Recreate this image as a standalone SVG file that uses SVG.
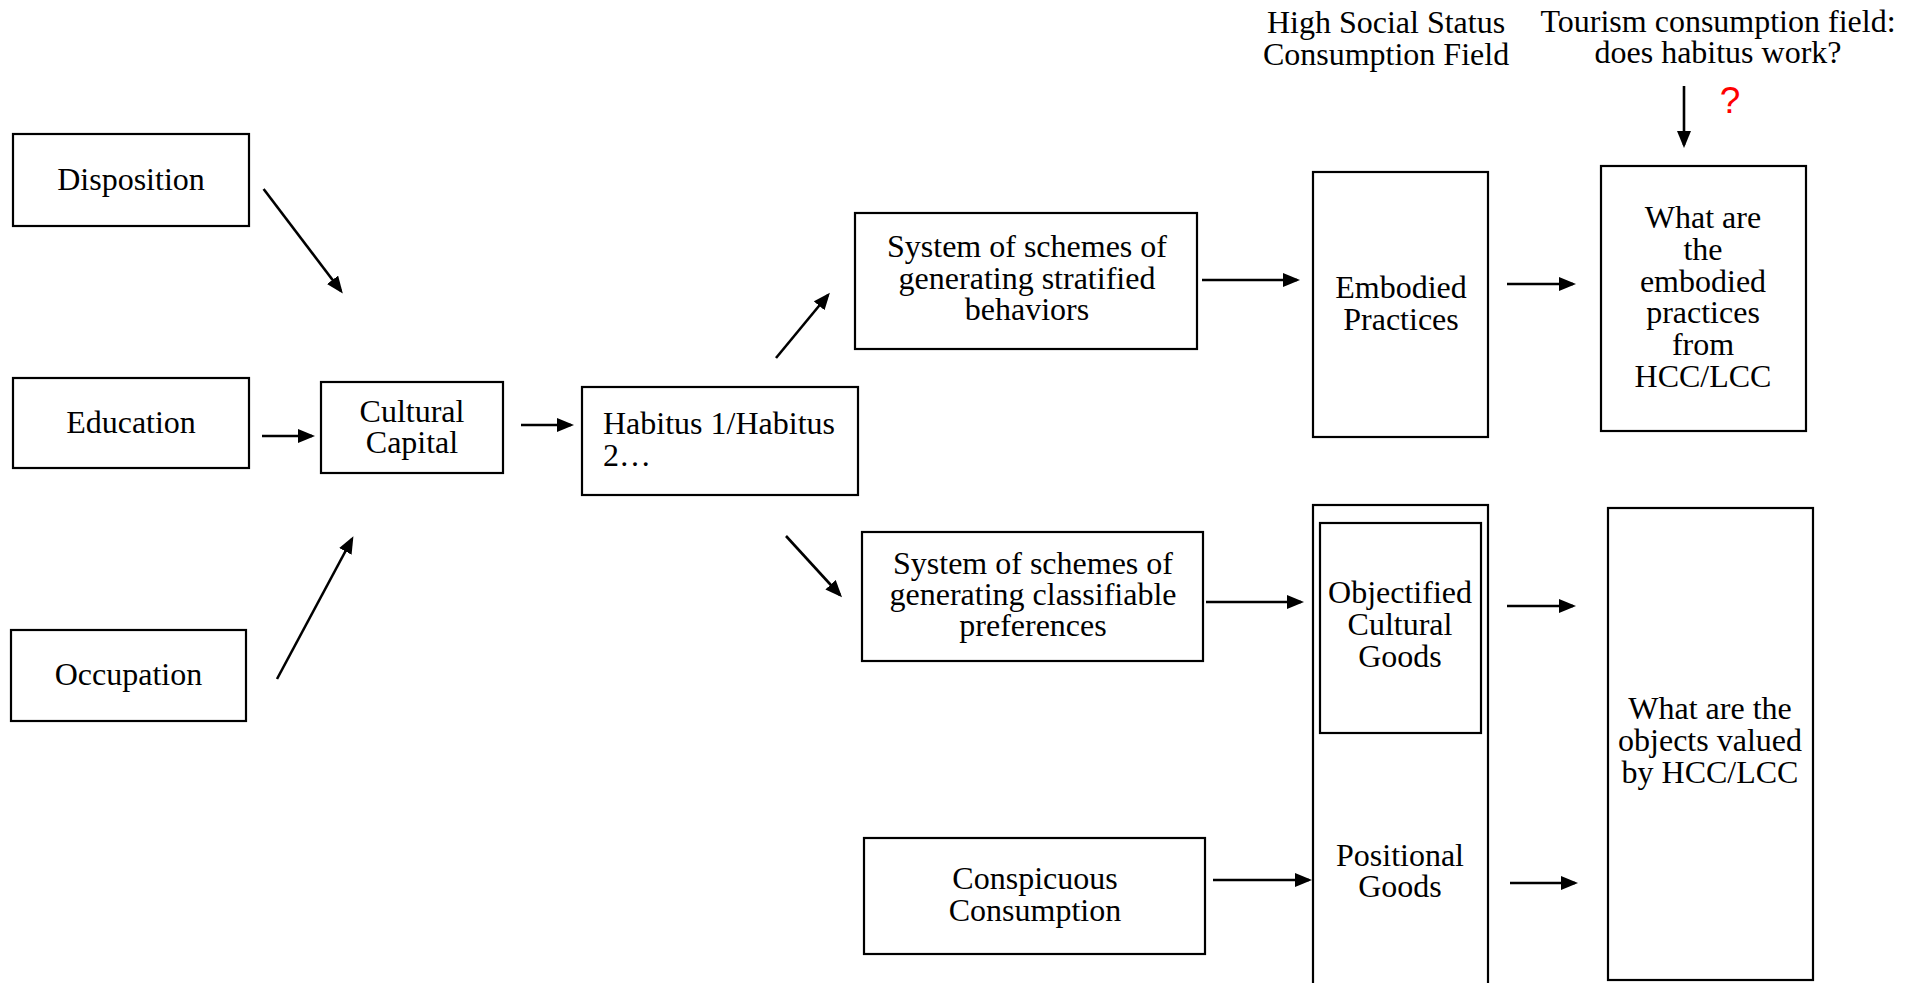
<svg xmlns="http://www.w3.org/2000/svg" width="1922" height="983" viewBox="0 0 1922 983">
<style>
.box{fill:#fff;stroke:#000;stroke-width:2.2}
.t{font-family:"Liberation Serif","Times New Roman",serif;font-size:32px;fill:#000;text-anchor:middle}
.tl{font-family:"Liberation Serif","Times New Roman",serif;font-size:32px;fill:#000}
.c{stroke:#000;stroke-width:2.6;fill:none;marker-end:url(#ah)}
</style>
<defs>
<marker id="ah" markerUnits="userSpaceOnUse" markerWidth="20" markerHeight="16" refX="14" refY="7" orient="auto">
<path d="M0,0 L17,7 L0,14 z" fill="#000"/>
</marker>
</defs>
<rect width="1922" height="983" fill="#fff"/>
<g id="disposition"><rect class="box" x="13" y="134" width="236" height="92"/><text class="t" x="131" y="190">Disposition</text></g>
<g id="education"><rect class="box" x="13" y="378" width="236" height="90"/><text class="t" x="131" y="433">Education</text></g>
<g id="occupation"><rect class="box" x="11" y="630" width="235" height="91"/><text class="t" x="128.5" y="685">Occupation</text></g>
<g id="cultural-capital"><rect class="box" x="321" y="382" width="182" height="91"/><text class="t" x="412" y="422">Cultural<tspan x="412" dy="31">Capital</tspan></text></g>
<g id="habitus"><rect class="box" x="582" y="387" width="276" height="108"/><text class="tl" x="603" y="434">Habitus 1/Habitus<tspan x="603" dy="32">2…</tspan></text></g>
<g id="stratified"><rect class="box" x="855" y="213" width="342" height="136"/><text class="t" x="1027" y="257">System of schemes of<tspan x="1027" dy="31.5">generating stratified</tspan><tspan x="1027" dy="31.5">behaviors</tspan></text></g>
<g id="classifiable"><rect class="box" x="862" y="532" width="341" height="129"/><text class="t" x="1033" y="574">System of schemes of<tspan x="1033" dy="31">generating classifiable</tspan><tspan x="1033" dy="31">preferences</tspan></text></g>
<g id="conspicuous"><rect class="box" x="864" y="838" width="341" height="116"/><text class="t" x="1035" y="889">Conspicuous<tspan x="1035" dy="32">Consumption</tspan></text></g>
<g id="embodied"><rect class="box" x="1313" y="172" width="175" height="265"/><text class="t" x="1401" y="298">Embodied<tspan x="1401" dy="32">Practices</tspan></text></g>
<g id="goods-column"><rect class="box" x="1313" y="505" width="175" height="495"/></g>
<g id="objectified"><rect class="box" x="1320" y="523" width="161" height="210"/><text class="t" x="1400" y="603">Objectified<tspan x="1400" dy="32">Cultural</tspan><tspan x="1400" dy="32">Goods</tspan></text></g>
<g id="positional"><text class="t" x="1400" y="866">Positional<tspan x="1400" dy="31">Goods</tspan></text></g>
<g id="what-embodied"><rect class="box" x="1601" y="166" width="205" height="265"/><text class="t" x="1703" y="228">What are<tspan x="1703" dy="31.8">the</tspan><tspan x="1703" dy="31.8">embodied</tspan><tspan x="1703" dy="31.8">practices</tspan><tspan x="1703" dy="31.8">from</tspan><tspan x="1703" dy="31.8">HCC/LCC</tspan></text></g>
<g id="what-objects"><rect class="box" x="1608" y="508" width="205" height="472"/><text class="t" x="1710" y="719">What are the<tspan x="1710" dy="32">objects valued</tspan><tspan x="1710" dy="32">by HCC/LCC</tspan></text></g>
<g id="high-status-label"><text class="t" x="1386" y="33">High Social Status<tspan x="1386" dy="32">Consumption Field</tspan></text></g>
<g id="tourism-label"><text class="t" x="1718" y="32">Tourism consumption field:<tspan x="1718" dy="31">does habitus work?</tspan></text></g>
<g id="question"><text x="1730" y="113" font-family="'Liberation Sans',Arial,sans-serif" font-size="37" fill="#ff0000" text-anchor="middle">?</text></g>
<g id="connectors">
<line class="c" x1="263.6" y1="189" x2="341" y2="291"/>
<line class="c" x1="262" y1="436" x2="312" y2="436"/>
<line class="c" x1="277" y1="679" x2="352" y2="539"/>
<line class="c" x1="521" y1="425" x2="571" y2="425"/>
<line class="c" x1="776" y1="358" x2="828" y2="295"/>
<line class="c" x1="786" y1="536" x2="840" y2="595"/>
<line class="c" x1="1202" y1="280" x2="1297" y2="280"/>
<line class="c" x1="1206" y1="602" x2="1301" y2="602"/>
<line class="c" x1="1213" y1="880" x2="1309" y2="880"/>
<line class="c" x1="1507" y1="284" x2="1573" y2="284"/>
<line class="c" x1="1507" y1="606" x2="1573" y2="606"/>
<line class="c" x1="1510" y1="883" x2="1575" y2="883"/>
<line class="c" x1="1684" y1="86" x2="1684" y2="145"/>
</g>
</svg>
